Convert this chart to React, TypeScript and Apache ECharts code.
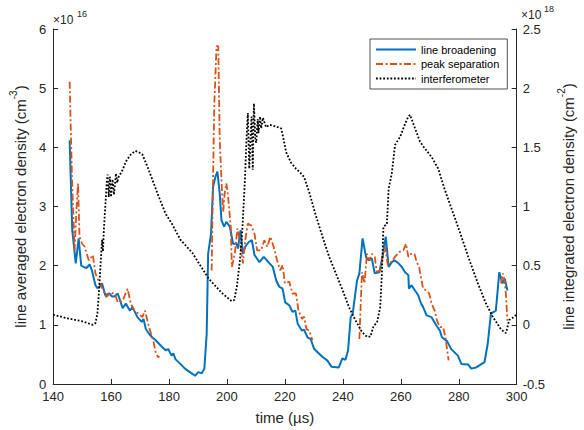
import React, { useEffect, useRef } from "react";
import * as echarts from "echarts";

const FONT = "'Liberation Sans', Arial, Helvetica, sans-serif";
const TXT = "#262626";

const xTicks = [140, 160, 180, 200, 220, 240, 260, 280, 300];
const leftTicks = [0, 1, 2, 3, 4, 5, 6];
const rightTicks = [-0.5, 0, 0.5, 1, 1.5, 2, 2.5];

const seriesNames = ["line broadening", "peak separation", "interferometer"];

// line broadening (x1e16 cm^-3), left axis
const lineBroadening: [number, number][] = [
  [145.7, 4.12], [146.6, 2.6], [147.8, 2.04], [148.8, 2.46], [149.7, 2.0], [150.5, 1.98],
  [151.5, 1.96], [152.6, 2.02], [153.4, 1.92], [154.6, 1.67], [155.3, 1.62], [156.0, 1.64],
  [156.9, 1.7], [158.0, 1.5], [159.4, 1.53], [160.3, 1.48], [161.1, 1.48], [162.3, 1.53],
  [163.2, 1.4], [164.0, 1.28], [165.1, 1.36], [166.5, 1.24], [167.4, 1.3], [169.1, 1.13],
  [170.6, 1.05], [171.2, 1.1], [172.0, 0.93], [173.1, 0.85], [174.2, 0.79], [175.4, 0.74],
  [177.1, 0.65], [178.8, 0.57], [179.7, 0.59], [180.9, 0.48], [181.5, 0.52], [182.2, 0.42],
  [183.9, 0.34], [185.5, 0.26], [187.2, 0.2], [189.0, 0.14], [190.1, 0.2], [191.3, 0.18],
  [192.2, 0.26], [193.0, 0.85], [193.5, 2.2], [194.5, 2.54], [195.2, 3.33], [196.0, 3.5],
  [196.7, 3.59], [197.5, 3.22], [198.1, 2.77], [199.0, 2.66], [199.8, 2.74], [201.0, 2.66],
  [202.1, 2.37], [203.3, 2.37], [203.8, 2.29], [204.7, 2.6], [205.5, 2.2], [206.3, 2.32],
  [207.5, 2.4], [208.6, 2.43], [209.5, 2.18], [211.2, 2.06], [212.7, 2.15], [214.7, 2.04],
  [215.8, 1.98], [217.0, 1.75], [218.1, 1.64], [219.2, 1.61], [220.1, 1.38], [221.5, 1.33],
  [222.6, 1.22], [223.6, 1.24], [224.4, 1.02], [225.9, 0.9], [226.6, 0.92], [227.8, 0.79],
  [228.9, 0.76], [230.1, 0.59], [231.2, 0.54], [232.9, 0.46], [234.6, 0.4], [236.1, 0.29],
  [238.6, 0.28], [239.8, 0.43], [240.9, 0.41], [241.8, 0.57], [242.7, 1.13], [243.4, 1.19],
  [244.3, 1.53], [244.9, 1.75], [245.7, 1.87], [246.8, 2.46], [248.0, 2.15], [248.9, 2.09],
  [250.0, 2.12], [251.0, 1.87], [252.6, 1.89], [253.7, 2.15], [254.8, 2.49], [255.8, 1.98],
  [256.9, 2.06], [257.8, 2.09], [259.2, 2.04], [260.3, 1.98], [261.5, 1.89], [262.6, 1.84],
  [262.8, 1.61], [263.7, 1.67], [264.9, 1.58], [266.0, 1.5], [267.0, 1.36], [267.7, 1.3],
  [268.9, 1.16], [270.6, 1.13], [272.3, 0.99], [273.5, 0.9], [274.2, 0.79], [276.0, 0.72],
  [277.4, 0.59], [279.7, 0.48], [280.9, 0.34], [283.2, 0.33], [284.3, 0.26], [286.0, 0.28],
  [288.9, 0.37], [290.0, 0.68], [291.1, 1.19], [292.8, 1.24], [294.0, 1.89], [295.1, 1.7],
  [295.9, 1.78], [296.8, 1.58],
];

// peak separation (x1e16 cm^-3), left axis, four pieces
const peakSep1: [number, number][] = [
  [145.7, 5.11], [146.5, 3.5], [147.4, 2.26], [148.0, 2.9], [148.6, 3.39], [149.1, 2.49],
  [150.0, 2.37], [150.9, 2.32], [152.3, 2.09], [153.7, 2.18], [154.6, 1.87], [156.0, 1.7],
  [157.1, 1.61], [158.3, 1.47], [160.0, 1.55], [161.5, 1.5], [162.3, 1.38], [164.0, 1.41],
  [165.7, 1.61], [166.8, 1.36], [168.0, 1.24], [169.5, 1.19], [170.8, 1.13], [171.7, 1.24],
  [173.1, 0.96], [174.2, 0.79], [174.8, 0.68], [175.5, 0.51], [176.3, 0.45], [176.7, 0.47],
];
const peakSep2: [number, number][] = [
  [194.7, 1.92], [195.6, 4.69], [196.4, 5.71], [197.0, 5.71], [197.5, 4.12], [198.1, 3.45],
  [198.7, 2.91], [199.2, 3.22], [199.8, 3.39], [200.4, 3.16], [201.3, 2.66], [201.7, 1.98],
  [202.7, 2.2], [203.6, 2.63], [204.4, 2.43], [205.5, 2.04], [206.3, 2.43], [207.2, 2.71],
  [208.4, 2.68], [209.5, 2.54], [210.4, 2.26], [211.8, 2.26], [212.9, 2.43], [213.9, 2.32],
  [215.0, 2.49], [216.1, 2.32], [217.3, 2.09], [218.4, 1.92], [219.2, 2.01], [220.0, 1.7],
  [221.5, 1.73], [222.6, 1.53], [223.8, 1.53], [224.7, 1.24], [225.9, 1.1], [226.6, 1.14],
  [227.4, 0.93], [228.4, 0.9], [229.5, 0.74],
];
const peakSep3: [number, number][] = [
  [245.7, 0.76], [246.6, 1.89], [247.5, 1.7], [248.3, 2.2], [249.2, 2.09], [250.0, 2.2],
  [251.0, 2.15], [251.7, 1.89], [252.9, 1.92], [253.7, 2.15], [254.6, 2.32], [255.5, 2.01],
  [256.3, 2.04], [257.1, 2.09], [258.0, 2.15], [259.4, 2.23], [260.9, 2.26], [261.8, 2.37],
  [262.6, 2.15], [263.5, 2.2], [264.7, 2.2], [265.5, 2.06], [266.3, 1.98], [267.7, 1.61],
  [268.9, 1.58], [269.8, 1.53], [270.6, 1.36], [271.7, 1.24], [272.5, 1.07], [273.5, 0.96],
  [274.6, 0.96], [275.4, 0.79], [276.5, 0.4],
];
const peakSep4: [number, number][] = [
  [294.6, 1.7], [295.2, 1.87], [295.8, 1.75], [296.3, 1.5], [296.8, 1.07],
];

// interferometer (x1e18 cm^-2), right axis
const interferometer: [number, number][] = [
  [140.0, 0.085], [145.0, 0.055], [150.0, 0.03], [153.7, 0.0], [154.6, 0.014], [155.3, 0.1],
  [156.0, 0.35], [156.6, 0.6], [156.9, 0.72], [157.2, 0.62], [157.5, 0.8], [158.0, 1.0],
  [158.5, 1.2], [158.8, 1.27], [159.2, 1.08], [159.6, 1.25], [160.0, 1.08], [160.5, 1.23],
  [161.0, 1.1], [161.7, 1.28], [162.1, 1.2], [162.6, 1.25], [164.0, 1.31], [165.1, 1.38],
  [166.8, 1.44], [168.4, 1.47], [169.5, 1.46], [170.8, 1.44], [172.5, 1.34], [174.2, 1.23],
  [176.5, 1.08], [178.8, 0.94], [181.1, 0.85], [183.9, 0.72], [188.0, 0.61], [193.7, 0.39],
  [198.2, 0.27], [201.6, 0.2], [202.5, 0.21], [203.4, 0.32], [204.5, 0.55], [205.3, 0.8],
  [206.2, 1.23], [206.7, 1.55], [207.2, 1.79], [207.7, 1.32], [208.1, 1.55], [208.5, 1.76],
  [208.9, 1.31], [209.3, 1.87], [209.8, 1.56], [210.1, 1.54], [210.6, 1.74], [210.9, 1.62],
  [211.4, 1.76], [211.8, 1.66], [212.4, 1.75], [213.5, 1.67], [214.7, 1.69], [216.4, 1.68],
  [218.7, 1.66], [219.6, 1.56], [220.4, 1.46], [222.1, 1.37], [223.8, 1.32], [225.5, 1.28],
  [226.6, 1.25], [228.4, 1.12], [230.6, 0.93], [232.9, 0.75], [235.2, 0.58], [237.5, 0.44],
  [239.8, 0.3], [242.1, 0.15], [244.3, 0.04], [246.6, -0.06], [248.3, -0.1], [249.5, -0.1],
  [250.6, -0.01], [251.8, 0.02], [252.9, 0.15], [253.5, 0.45], [254.0, 0.83], [255.2, 0.85],
  [255.8, 1.15], [256.9, 1.28], [258.0, 1.52], [259.8, 1.59], [261.5, 1.7], [262.6, 1.76],
  [263.2, 1.775], [264.3, 1.7], [266.6, 1.55], [268.3, 1.49], [270.6, 1.42], [272.9, 1.32],
  [275.2, 1.14], [277.4, 0.99], [280.3, 0.79], [283.2, 0.58], [286.6, 0.35], [289.4, 0.18],
  [291.7, 0.07], [294.6, -0.04], [296.3, -0.07], [297.4, 0.04], [299.2, 0.07], [300.0, 0.09],
];

const BLUE = "#0072BD";
const ORANGE = "#D95319";

export default function App() {
  const ref = useRef<HTMLDivElement>(null);
  useEffect(() => {
    if (!ref.current) return;
    const chart = echarts.init(ref.current, null, { renderer: "svg" });
    const axisLine = { show: true, lineStyle: { color: TXT, width: 1 } };
    const axisTick = { show: true, inside: true, length: 5, lineStyle: { color: TXT, width: 1 } };
    const axisLabel = { color: TXT, fontSize: 13, fontFamily: FONT };
    const nameRich = {
      n: { fontSize: 15, fontFamily: FONT, color: TXT, lineHeight: 20, verticalAlign: "bottom" },
      s: { fontSize: 10, fontFamily: FONT, color: TXT, lineHeight: 10, verticalAlign: "top" },
    };
    const peakStyle = { color: ORANGE, width: 1.8, type: [7, 2.5, 2, 2.5] };
    const peakParts = [peakSep1, peakSep2, peakSep3, peakSep4];
    const option: any = {
      animation: false,
      backgroundColor: "#fff",
      grid: { left: 52, right: 65, top: 29, bottom: 46, containLabel: false },
      legend: {
        data: seriesNames,
        orient: "vertical",
        left: 370,
        top: 39,
        padding: [5, 8, 5, 5],
        itemGap: 3.5,
        itemWidth: 40,
        itemHeight: 12,
        borderColor: TXT,
        borderWidth: 0.8,
        borderRadius: 0,
        backgroundColor: "#fff",
        itemStyle: { opacity: 0, borderWidth: 0 },
        textStyle: { color: "#000", fontSize: 11, fontFamily: FONT },
      },
      xAxis: {
        type: "value",
        min: xTicks[0],
        max: xTicks[xTicks.length - 1],
        interval: 20,
        name: "time (µs)",
        nameLocation: "middle",
        nameGap: 26,
        nameTextStyle: { color: TXT, fontSize: 15, fontFamily: FONT },
        axisLine,
        axisTick,
        axisLabel: { ...axisLabel, margin: 6 },
        splitLine: { show: false },
      },
      yAxis: [
        {
          type: "value",
          position: "left",
          min: leftTicks[0],
          max: leftTicks[leftTicks.length - 1],
          interval: 1,
          name: "{n|line averaged electron density (cm}{s|-3}{n|)}",
          nameLocation: "middle",
          nameGap: 19,
          nameTextStyle: { rich: nameRich },
          axisLine,
          axisTick,
          axisLabel: { ...axisLabel, margin: 7 },
          splitLine: { show: false },
        },
        {
          type: "value",
          position: "right",
          min: rightTicks[0],
          max: rightTicks[rightTicks.length - 1],
          interval: 0.5,
          name: "{n|line integrated electron density (cm}{s|-2}{n|)}",
          nameLocation: "middle",
          nameGap: 39,
          nameRotate: 90,
          nameTextStyle: { rich: nameRich },
          axisLine,
          axisTick,
          axisLabel: { ...axisLabel, margin: 6 },
          splitLine: { show: false },
        },
      ],
      graphic: [
        { type: "text", left: 53, top: 14, style: { text: "×10", fontSize: 12, fontFamily: FONT, fill: TXT } },
        { type: "text", left: 77, top: 9, style: { text: "16", fontSize: 9, fontFamily: FONT, fill: TXT } },
        { type: "text", left: 521, top: 9, style: { text: "×10", fontSize: 12, fontFamily: FONT, fill: TXT } },
        { type: "text", left: 544, top: 4, style: { text: "18", fontSize: 9, fontFamily: FONT, fill: TXT } },
      ],
      series: [
        {
          name: seriesNames[0],
          type: "line",
          yAxisIndex: 0,
          data: lineBroadening,
          symbol: "none",
          lineStyle: { color: BLUE, width: 2 },
          itemStyle: { color: BLUE },
        },
        ...peakParts.map((d) => ({
          name: seriesNames[1],
          type: "line",
          yAxisIndex: 0,
          data: d,
          symbol: "none",
          lineStyle: peakStyle,
          itemStyle: { color: ORANGE },
        })),
        {
          name: seriesNames[2],
          type: "line",
          yAxisIndex: 1,
          data: interferometer,
          symbol: "none",
          lineStyle: { color: "#000", width: 1.8, type: [1.8, 1.8] },
          itemStyle: { color: "#000" },
        },
      ],
    };
    chart.setOption(option);
    return () => chart.dispose();
  }, []);
  return (
    <div
      ref={ref}
      style={{ position: "fixed", left: 0, top: 0, width: 584, height: 430, background: "#fff" }}
    />
  );
}
